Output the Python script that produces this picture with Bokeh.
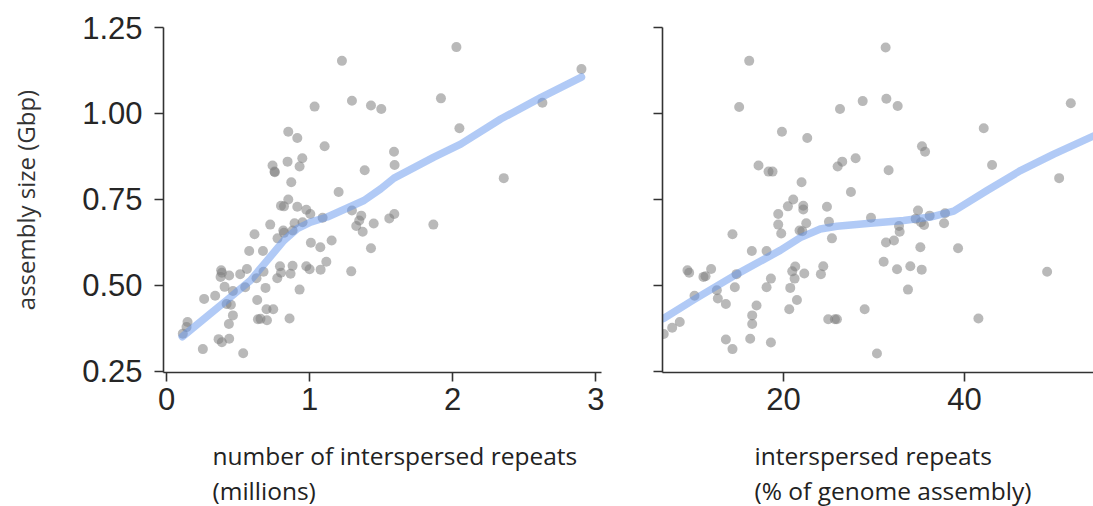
from bokeh.plotting import figure
from bokeh.layouts import row
from bokeh.models import (Title, FixedTicker, NumeralTickFormatter, CustomJSTickFormatter,
                          Range1d, LinearAxis)
from bokeh.embed import file_html
from bokeh.resources import INLINE

# ---- data: left panel (number of interspersed repeats, millions) ----
x_count = [2.026, 1.226, 2.90, 1.296, 1.429, 1.501, 1.035, 1.918, 2.627, 2.047,
           0.851, 0.914, 1.105, 1.590, 0.949, 0.846, 0.930, 0.741, 0.755, 0.757,
           1.594, 1.385, 0.872, 2.357, 1.203, 0.851, 0.800, 0.821, 0.914, 0.977,
           1.005, 1.091, 1.296, 1.361, 1.347, 1.326, 1.371, 1.448, 1.557, 1.592,
           1.865, 0.725, 0.895, 0.951, 0.816, 0.821, 0.881, 0.776, 0.615, 1.009,
           1.075, 1.154, 1.429, 0.578, 0.674, 1.117, 0.793, 0.881, 0.977, 1.000,
           1.077, 1.291, 0.800, 0.867, 0.774, 0.678, 0.562, 0.515, 0.629, 0.382,
           0.387, 0.378, 0.438, 0.406, 0.464, 0.550, 0.692, 0.930, 0.340, 0.263,
           0.634, 0.420, 0.450, 0.699, 0.746, 0.464, 0.436, 0.639, 0.657, 0.702,
           0.860, 0.147, 0.140, 0.114, 0.364, 0.387, 0.438, 0.254, 0.536]
y_count = [1.193, 1.153, 1.129, 1.037, 1.023, 1.013, 1.020, 1.044, 1.031, 0.957,
           0.947, 0.929, 0.905, 0.889, 0.870, 0.860, 0.846, 0.849, 0.831, 0.829,
           0.850, 0.835, 0.800, 0.812, 0.772, 0.750, 0.732, 0.730, 0.729, 0.720,
           0.708, 0.697, 0.718, 0.703, 0.689, 0.673, 0.656, 0.680, 0.695, 0.708,
           0.677, 0.677, 0.681, 0.684, 0.660, 0.653, 0.660, 0.637, 0.649, 0.624,
           0.611, 0.631, 0.608, 0.600, 0.600, 0.569, 0.556, 0.557, 0.556, 0.547,
           0.546, 0.541, 0.537, 0.534, 0.521, 0.540, 0.548, 0.533, 0.521, 0.544,
           0.537, 0.525, 0.529, 0.496, 0.484, 0.495, 0.493, 0.488, 0.470, 0.461,
           0.458, 0.446, 0.444, 0.431, 0.431, 0.413, 0.388, 0.402, 0.403, 0.399,
           0.404, 0.394, 0.379, 0.360, 0.344, 0.335, 0.345, 0.315, 0.303]
lowess_count_x = [0.11, 0.424, 0.587, 0.704, 0.821, 0.914, 1.007, 1.124, 1.380,
                  1.497, 1.590, 1.869, 2.056, 2.336, 2.615, 2.900]
lowess_count_y = [0.351, 0.458, 0.515, 0.573, 0.631, 0.665, 0.684, 0.699, 0.747,
                  0.781, 0.812, 0.873, 0.911, 0.984, 1.046, 1.106]

# ---- data: right panel (interspersed repeats, % of genome assembly) ----
x_pct = [31.29, 16.20, 15.09, 26.24, 28.75, 31.37, 32.62, 51.77, 42.14, 19.82,
         22.62, 35.31, 35.65, 27.97, 26.49, 25.98, 17.23, 18.34, 18.78, 43.06,
         31.62, 21.99, 50.48, 27.45, 21.07, 20.48, 22.18, 22.18, 24.80, 19.41,
         34.87, 36.16, 34.61, 37.86, 35.20, 35.54, 37.75, 29.67, 32.77, 32.84,
         25.02, 22.51, 19.41, 21.77, 22.07, 19.74, 14.35, 25.35, 31.33, 32.21,
         35.13, 39.30, 16.49, 18.12, 31.07, 32.55, 34.02, 35.28, 49.15, 21.29,
         20.96, 22.29, 21.22, 24.39, 24.13, 18.60, 18.12, 20.74, 14.61, 14.80,
         11.99, 11.37, 11.14, 9.37, 9.56, 12.62, 12.73, 10.15, 13.62, 17.01,
         21.48, 20.63, 28.97, 33.76, 16.53, 16.53, 24.94, 25.68, 25.90, 41.55,
         8.52, 7.68, 6.75, 13.62, 16.31, 18.60, 14.35, 30.33]
y_pct = [1.192, 1.153, 1.019, 1.013, 1.036, 1.043, 1.022, 1.030, 0.957, 0.947,
         0.929, 0.905, 0.889, 0.870, 0.860, 0.846, 0.849, 0.831, 0.831, 0.850,
         0.835, 0.800, 0.812, 0.772, 0.750, 0.730, 0.732, 0.721, 0.729, 0.708,
         0.718, 0.703, 0.694, 0.710, 0.684, 0.676, 0.681, 0.697, 0.673, 0.656,
         0.685, 0.681, 0.677, 0.660, 0.658, 0.651, 0.649, 0.637, 0.625, 0.631,
         0.611, 0.608, 0.600, 0.600, 0.569, 0.547, 0.556, 0.546, 0.540, 0.555,
         0.541, 0.535, 0.520, 0.556, 0.533, 0.520, 0.495, 0.493, 0.495, 0.533,
         0.548, 0.527, 0.525, 0.544, 0.537, 0.486, 0.462, 0.470, 0.446, 0.442,
         0.458, 0.431, 0.431, 0.488, 0.413, 0.388, 0.402, 0.402, 0.402, 0.404,
         0.394, 0.377, 0.359, 0.343, 0.345, 0.334, 0.315, 0.302]
lowess_pct_x = [6.72, 10.04, 14.83, 19.63, 21.85, 24.06, 25.90, 29.59, 33.28,
                36.24, 38.82, 42.51, 46.20, 49.89, 54.32]
lowess_pct_y = [0.404, 0.458, 0.533, 0.602, 0.639, 0.664, 0.672, 0.681, 0.689,
                0.699, 0.716, 0.776, 0.834, 0.882, 0.935]

y_ticks = [0.25, 0.50, 0.75, 1.00, 1.25]
count_ticks = [0, 1, 2, 3]
pct_ticks = [20, 40]

AX = "#333333"
TICK_FONT = "Liberation Sans"
LABEL_FONT = "Open Sans"


def style(p):
    p.grid.visible = False
    p.outline_line_color = None
    p.background_fill_color = "white"
    for ax in (p.xaxis[0], p.yaxis[0]):
        ax.axis_line_color = AX
        ax.axis_line_width = 1.6
        ax.major_tick_line_color = AX
        ax.major_tick_line_width = 1.6
        ax.major_tick_out = 9
        ax.major_tick_in = 0
        ax.minor_tick_line_color = None
        ax.major_label_text_font = TICK_FONT
        ax.major_label_text_font_size = "31px"
        ax.major_label_text_color = "#262626"
    p.xaxis.major_label_standoff = 6
    p.yaxis.major_label_standoff = 12


def xlabel(p, offset, lines, spacer_tick):
    # invisible spacer between the tick labels and the axis title lines
    spacer = LinearAxis(ticker=FixedTicker(ticks=[spacer_tick]),
                        formatter=CustomJSTickFormatter(code="return ''"),
                        axis_line_color=None, major_tick_line_color=None,
                        minor_tick_line_color=None, major_tick_out=24,
                        major_tick_in=0, major_label_standoff=0)
    p.add_layout(spacer, "below")
    for t in lines:
        p.add_layout(Title(text=t, align="left", offset=offset,
                           text_font=LABEL_FONT, text_font_size="24.5px",
                           text_font_style="normal", text_color="#222222",
                           standoff=0), "below")


p1 = figure(width=640, height=506, output_backend="svg", toolbar_location=None,
            x_range=Range1d(-0.021, 3.04), y_range=Range1d(0.247, 1.25),
            min_border_left=163, min_border_right=39, min_border_top=27,
            min_border_bottom=133)
style(p1)
p1.xaxis[0].ticker = FixedTicker(ticks=count_ticks)
p1.yaxis.ticker = FixedTicker(ticks=y_ticks)
p1.yaxis.formatter = NumeralTickFormatter(format="0.00")
p1.yaxis.axis_label = "assembly size (Gbp)"
p1.yaxis.axis_label_text_font = LABEL_FONT
p1.yaxis.axis_label_text_font_size = "24px"
p1.yaxis.axis_label_text_font_style = "normal"
p1.yaxis.axis_label_text_color = "#333333"
p1.yaxis.axis_label_standoff = 37
p1.scatter(x_count, y_count, size=10, fill_color="gray", fill_alpha=0.55,
           line_color=None)
p1.line(lowess_count_x, lowess_count_y, line_color="cornflowerblue",
        line_alpha=0.5, line_width=7.5, line_cap="round", line_join="round")
xlabel(p1, 49, ["number of interspersed repeats", "(millions)"], count_ticks[1])

p2 = figure(width=453, height=506, output_backend="svg", toolbar_location=None,
            x_range=Range1d(6.61, 54.28), y_range=Range1d(0.247, 1.25),
            min_border_left=22, min_border_right=0, min_border_top=27,
            min_border_bottom=133)
style(p2)
p2.xaxis[0].ticker = FixedTicker(ticks=pct_ticks)
p2.yaxis.ticker = FixedTicker(ticks=y_ticks)
p2.yaxis.formatter = CustomJSTickFormatter(code="return ''")
p2.scatter(x_pct, y_pct, size=10, fill_color="gray", fill_alpha=0.55,
           line_color=None)
p2.line(lowess_pct_x, lowess_pct_y, line_color="cornflowerblue",
        line_alpha=0.5, line_width=7.5, line_cap="round", line_join="round")
xlabel(p2, 92, ["interspersed repeats", "(% of genome assembly)"], pct_ticks[0])

layout = row(p1, p2)
open("out.html", "w").write(file_html(layout, INLINE))
